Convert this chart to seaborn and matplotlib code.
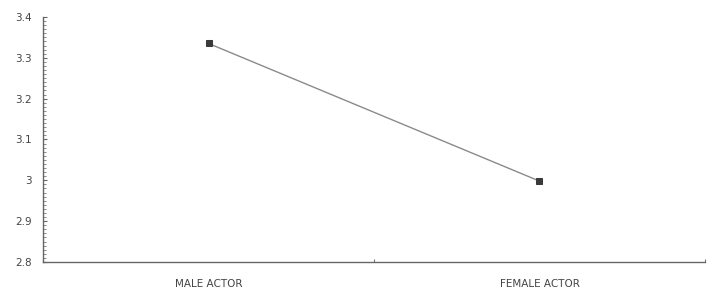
import matplotlib
matplotlib.use("Agg")
import matplotlib.pyplot as plt
import seaborn as sns
import pandas as pd
from matplotlib.ticker import MultipleLocator, FixedLocator

categories = ["MALE ACTOR", "FEMALE ACTOR"]
values = [3.335, 2.998]
yticks = [2.8, 2.9, 3.0, 3.1, 3.2, 3.3, 3.4]
ytick_labels = ["2.8", "2.9", "3", "3.1", "3.2", "3.3", "3.4"]

sns.set_style("white")
plt.rcParams["font.family"] = ["DejaVu Sans"]

df = pd.DataFrame({"actor": categories, "score": values})

fig = plt.figure(figsize=(7.07, 2.92), dpi=100)
ax = fig.add_axes([0.061, 0.103, 0.936, 0.839])

sns.lineplot(data=df, x="actor", y="score", ax=ax, color="#8a8a8a", linewidth=1.0,
             marker="s", markersize=4, markerfacecolor="#3a3a3a", markeredgecolor="#3a3a3a",
             sort=False)

ax.set_xlim(-0.5, 1.5)
ax.set_ylim(2.8, 3.4)
ax.set_yticks(yticks)
ax.set_yticklabels(ytick_labels)
ax.yaxis.set_minor_locator(MultipleLocator(0.01))
ax.xaxis.set_minor_locator(FixedLocator([-0.5, 0.5, 1.5]))
ax.set_xlabel("")
ax.set_ylabel("")

for s in ["top", "right"]:
    ax.spines[s].set_visible(False)
for s in ["left", "bottom"]:
    ax.spines[s].set_color("#666666")
    ax.spines[s].set_linewidth(1.0)

ax.tick_params(axis="y", which="major", direction="in", length=3, width=0.8, color="#666666",
               labelsize=7.5, labelcolor="#444444", pad=8, left=True)
ax.tick_params(axis="y", which="minor", direction="in", length=2, width=0.6, color="#777777", left=True)
ax.tick_params(axis="x", which="major", length=0, labelsize=7.5, labelcolor="#444444", pad=12)
ax.tick_params(axis="x", which="minor", direction="in", length=2, width=0.8, color="#777777", bottom=True)

fig.savefig("out.png", dpi=100)
